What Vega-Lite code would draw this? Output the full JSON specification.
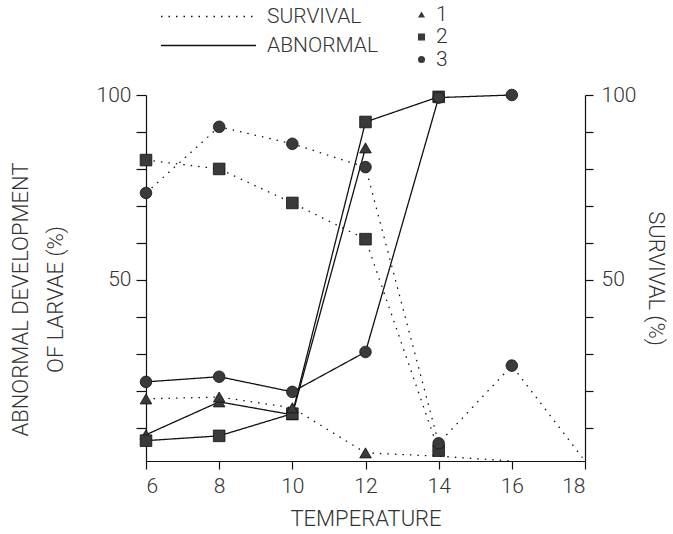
{
  "$schema": "https://vega.github.io/schema/vega-lite/v6.json",
  "width": 439,
  "height": 366,
  "autosize": {"type": "none"},
  "padding": {"left": 146, "top": 95, "right": 88, "bottom": 73},
  "background": "white",
  "config": {
    "view": {"stroke": null},
    "font": "Roboto",
    "axis": {
      "grid": false,
      "domainColor": "#111",
      "domainWidth": 1.2,
      "tickColor": "#111",
      "tickWidth": 1.2,
      "labelFont": "Roboto",
      "labelFontWeight": 300,
      "labelColor": "#333",
      "labelFontSize": 21,
      "titleFont": "Roboto",
      "titleFontWeight": 300,
      "titleColor": "#333",
      "titleFontSize": 22
    },
    "legend": {
      "labelFont": "Roboto",
      "labelFontWeight": 300,
      "labelColor": "#333",
      "labelFontSize": 21,
      "titleFontSize": 0
    }
  },
  "data": {
    "values": [
      {"temp": 6, "value": 8.1, "series": "1", "type": "ABNORMAL", "m": 1},
      {"temp": 8, "value": 17.0, "series": "1", "type": "ABNORMAL", "m": 1},
      {"temp": 10, "value": 13.5, "series": "1", "type": "ABNORMAL", "m": 1},
      {"temp": 12, "value": 85.7, "series": "1", "type": "ABNORMAL", "m": 1},
      {"temp": 6, "value": 6.5, "series": "2", "type": "ABNORMAL", "m": 1},
      {"temp": 8, "value": 7.8, "series": "2", "type": "ABNORMAL", "m": 1},
      {"temp": 10, "value": 13.8, "series": "2", "type": "ABNORMAL", "m": 1},
      {"temp": 12, "value": 92.7, "series": "2", "type": "ABNORMAL", "m": 1},
      {"temp": 14, "value": 99.5, "series": "2", "type": "ABNORMAL", "m": 1},
      {"temp": 6, "value": 22.4, "series": "3", "type": "ABNORMAL", "m": 1},
      {"temp": 8, "value": 23.8, "series": "3", "type": "ABNORMAL", "m": 1},
      {"temp": 10, "value": 19.7, "series": "3", "type": "ABNORMAL", "m": 1},
      {"temp": 12, "value": 30.5, "series": "3", "type": "ABNORMAL", "m": 1},
      {"temp": 14, "value": 99.3, "series": "3", "type": "ABNORMAL", "m": 1},
      {"temp": 16, "value": 100, "series": "3", "type": "ABNORMAL", "m": 1},
      {"temp": 6, "value": 17.8, "series": "1", "type": "SURVIVAL", "m": 1},
      {"temp": 8, "value": 18.3, "series": "1", "type": "SURVIVAL", "m": 1},
      {"temp": 10, "value": 15.4, "series": "1", "type": "SURVIVAL", "m": 1},
      {"temp": 12, "value": 3.2, "series": "1", "type": "SURVIVAL", "m": 1},
      {"temp": 14, "value": 2.3, "series": "1", "type": "SURVIVAL", "m": 0},
      {"temp": 16, "value": 1, "series": "1", "type": "SURVIVAL", "m": 0},
      {"temp": 6, "value": 82.4, "series": "2", "type": "SURVIVAL", "m": 1},
      {"temp": 8, "value": 80.0, "series": "2", "type": "SURVIVAL", "m": 1},
      {"temp": 10, "value": 70.8, "series": "2", "type": "SURVIVAL", "m": 1},
      {"temp": 12, "value": 61.0, "series": "2", "type": "SURVIVAL", "m": 1},
      {"temp": 14, "value": 3.8, "series": "2", "type": "SURVIVAL", "m": 1},
      {"temp": 6, "value": 73.5, "series": "3", "type": "SURVIVAL", "m": 1},
      {"temp": 8, "value": 91.4, "series": "3", "type": "SURVIVAL", "m": 1},
      {"temp": 10, "value": 86.8, "series": "3", "type": "SURVIVAL", "m": 1},
      {"temp": 12, "value": 80.5, "series": "3", "type": "SURVIVAL", "m": 1},
      {"temp": 14, "value": 5.8, "series": "3", "type": "SURVIVAL", "m": 1},
      {"temp": 16, "value": 26.8, "series": "3", "type": "SURVIVAL", "m": 1},
      {"temp": 18, "value": 1, "series": "3", "type": "SURVIVAL", "m": 0}
    ]
  },
  "encoding": {
    "x": {
      "field": "temp",
      "type": "quantitative",
      "scale": {"domain": [6, 18], "nice": false, "zero": false},
      "axis": {
        "values": [6, 8, 10, 12, 14, 16, 18],
        "tickSize": 8,
        "labelPadding": 6,
        "title": "TEMPERATURE",
        "titlePadding": 12
      }
    }
  },
  "layer": [
    {
      "layer": [
        {
          "mark": {"type": "line", "strokeWidth": 1.3, "color": "#111"},
          "encoding": {
            "y": {
              "field": "value",
              "type": "quantitative",
              "scale": {"domain": [1, 100], "nice": false, "zero": false},
              "axis": {
                "orient": "left",
                "values": [10, 20, 30, 40, 50, 60, 70, 80, 90, 100],
                "labelExpr": "datum.value % 50 == 0 ? datum.label : ''",
                "tickSize": 10,
                "labelPadding": 5,
                "title": ["ABNORMAL DEVELOPMENT", "OF LARVAE (%)"],
                "titleLineHeight": 35,
                "titlePadding": 29,
                "titleY": 204
              }
            },
            "detail": [{"field": "series"}, {"field": "type"}],
            "strokeDash": {
              "field": "type",
              "type": "nominal",
              "scale": {"domain": ["SURVIVAL", "ABNORMAL"], "range": [[1.5, 6], [1, 0]]},
              "legend": {
                "orient": "none",
                "legendX": 52,
                "legendY": -89,
                "symbolType": "M-5,0H5",
                "symbolSize": 361,
                "symbolStrokeWidth": 1.3,
                "symbolStrokeColor": "#111",
                "symbolFillColor": "transparent",
                "labelOffset": 48,
                "rowPadding": 7,
                "title": null
              }
            }
          }
        },
        {
          "transform": [{"filter": "datum.m == 1"}],
          "mark": {"type": "point", "filled": true, "opacity": 1, "color": "#3a3a3a", "stroke": "#111", "strokeWidth": 0.8},
          "encoding": {
            "y": {"field": "value", "type": "quantitative"},
            "shape": {
              "field": "series",
              "type": "nominal",
              "scale": {"domain": ["1", "2", "3"], "range": ["triangle-up", "square", "circle"]},
              "legend": {
                "orient": "none",
                "legendX": 265,
                "legendY": -91,
                "symbolSize": 50,
                "symbolFillColor": "#555",
                "symbolStrokeColor": "#555",
                "labelOffset": 4,
                "rowPadding": 0.5,
                "title": null
              }
            },
            "size": {"value": 135}
          }
        }
      ]
    },
    {
      "mark": {"type": "point", "opacity": 0},
      "encoding": {
        "y": {
          "field": "value",
          "type": "quantitative",
          "scale": {"domain": [1, 100], "nice": false, "zero": false},
          "axis": {
            "orient": "right",
            "values": [10, 20, 30, 40, 50, 60, 70, 80, 90, 100],
            "labelExpr": "datum.value % 50 == 0 ? datum.label : ''",
            "tickSize": 8,
            "labelPadding": 8,
            "title": "SURVIVAL (%)",
            "titlePadding": 8
          }
        }
      }
    }
  ],
  "resolve": {"scale": {"y": "independent"}}
}
